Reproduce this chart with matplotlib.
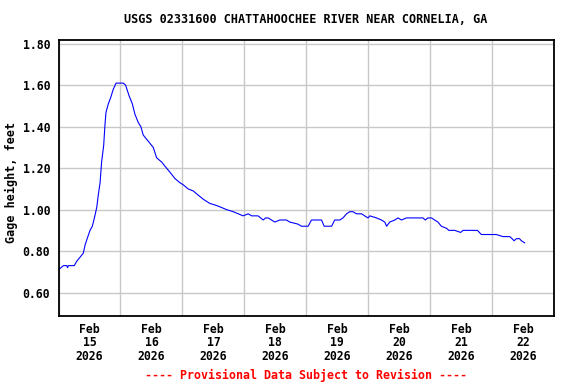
import matplotlib
matplotlib.use("Agg")
import matplotlib.pyplot as plt
import matplotlib.dates as mdates
import pandas as pd

# gage height readings, hours after 2026-02-15 00:00
hours = [0, 1.9, 3.2, 3.5, 3.8, 6.1, 7.0, 8.3, 9.6, 10.3, 11.1, 12.2, 13.1, 13.9,
         14.8, 15.4, 16.1, 16.7, 17.5, 18.0, 18.4, 19.3, 20.2, 21.2, 22.3, 23.4,
         25.1, 26.0, 27.3, 28.6, 29.6, 30.9, 31.9, 32.8, 34.1, 35.4, 36.7, 38.0,
         39.9, 41.2, 43.2, 45.1, 47.0, 48.3, 50.2, 52.2, 54.1, 56.1, 58.6, 61.2,
         63.2, 65.1, 67.7, 69.6, 71.5, 73.5, 74.8, 77.3, 79.3, 80.2, 81.2, 82.5,
         83.8, 85.7, 87.0, 88.3, 89.6, 92.8, 94.1, 96.7, 98.0, 101.9, 102.9, 105.8,
         107.0, 109.0, 110.2, 111.6, 112.8, 114.1, 115.4, 117.4, 118.6, 119.9,
         120.6, 123.2, 125.1, 126.4, 127.1, 128.3, 130.3, 131.5, 132.9, 134.8,
         136.7, 138.7, 141.2, 142.1, 143.1, 144.5, 145.7, 147.0, 148.3, 150.3,
         151.2, 153.5, 155.8, 156.7, 160.0, 162.3, 163.8, 167.0, 169.6, 172.2,
         174.8, 175.7, 176.5, 177.4, 178.6, 179.3, 180.6]
gage = [0.71, 0.73, 0.73, 0.72, 0.73, 0.73, 0.75, 0.77, 0.79, 0.83, 0.86, 0.90,
        0.92, 0.96, 1.01, 1.07, 1.13, 1.23, 1.31, 1.41, 1.47, 1.51, 1.54, 1.58,
        1.61, 1.61, 1.61, 1.60, 1.55, 1.51, 1.46, 1.42, 1.40, 1.36, 1.34, 1.32,
        1.30, 1.25, 1.23, 1.21, 1.18, 1.15, 1.13, 1.12, 1.10, 1.09, 1.07, 1.05,
        1.03, 1.02, 1.01, 1.00, 0.99, 0.98, 0.97, 0.98, 0.97, 0.97, 0.95, 0.96,
        0.96, 0.95, 0.94, 0.95, 0.95, 0.95, 0.94, 0.93, 0.92, 0.92, 0.95, 0.95,
        0.92, 0.92, 0.95, 0.95, 0.96, 0.98, 0.99, 0.99, 0.98, 0.98, 0.97, 0.96,
        0.97, 0.96, 0.95, 0.94, 0.92, 0.94, 0.95, 0.96, 0.95, 0.96, 0.96, 0.96,
        0.96, 0.95, 0.96, 0.96, 0.95, 0.94, 0.92, 0.91, 0.90, 0.90, 0.89, 0.90,
        0.90, 0.90, 0.88, 0.88, 0.88, 0.87, 0.87, 0.86, 0.85, 0.86, 0.86, 0.85,
        0.84]
yticks = [0.60, 0.80, 1.00, 1.20, 1.40, 1.60, 1.80]

start = pd.Timestamp("2026-02-15")
times = [start + pd.Timedelta(hours=h) for h in hours]

font = "DejaVu Sans Mono"
fig = plt.figure(figsize=(5.76, 3.84), dpi=100)
ax = fig.add_axes([0.1016, 0.177, 0.8604, 0.72])

ax.plot(times, gage, color="#0000ff", lw=0.8)

ax.set_xlim(start, start + pd.Timedelta(days=8))
ax.set_ylim(0.487, 1.82)
ax.set_yticks(yticks)
ax.set_yticklabels([f"{v:.2f}" for v in yticks], fontfamily=font,
                   fontweight="bold", fontsize=8.3)

ax.xaxis.set_major_locator(mdates.DayLocator())
ax.xaxis.set_major_formatter(plt.NullFormatter())
ax.xaxis.set_minor_locator(mdates.HourLocator(byhour=[12]))
ax.xaxis.set_minor_formatter(mdates.DateFormatter("%b\n%d\n%Y"))
for lab in ax.get_xticklabels(minor=True):
    lab.set_fontfamily(font)
    lab.set_fontweight("bold")
    lab.set_fontsize(8.3)
    lab.set_linespacing(1.05)

ax.tick_params(axis="both", which="both", length=0)
ax.tick_params(axis="y", pad=6)
ax.tick_params(axis="x", which="minor", pad=5)

ax.grid(True, which="major", color="#c8c8c8", lw=1.0)
ax.set_axisbelow(True)
for s in ax.spines.values():
    s.set_linewidth(1.3)
    s.set_color("black")

fig.text(0.531, 0.95, "USGS 02331600 CHATTAHOOCHEE RIVER NEAR CORNELIA, GA",
         ha="center", va="center", fontfamily=font, fontweight="bold",
         fontsize=8.5)
fig.text(0.02, 0.525, "Gage height, feet", rotation=90, ha="center",
         va="center", fontfamily=font, fontweight="bold", fontsize=8.5)
fig.text(0.531, 0.023, "---- Provisional Data Subject to Revision ----",
         ha="center", va="center", color="red", fontfamily=font,
         fontweight="bold", fontsize=8.4)

fig.savefig("out.png", dpi=100)
